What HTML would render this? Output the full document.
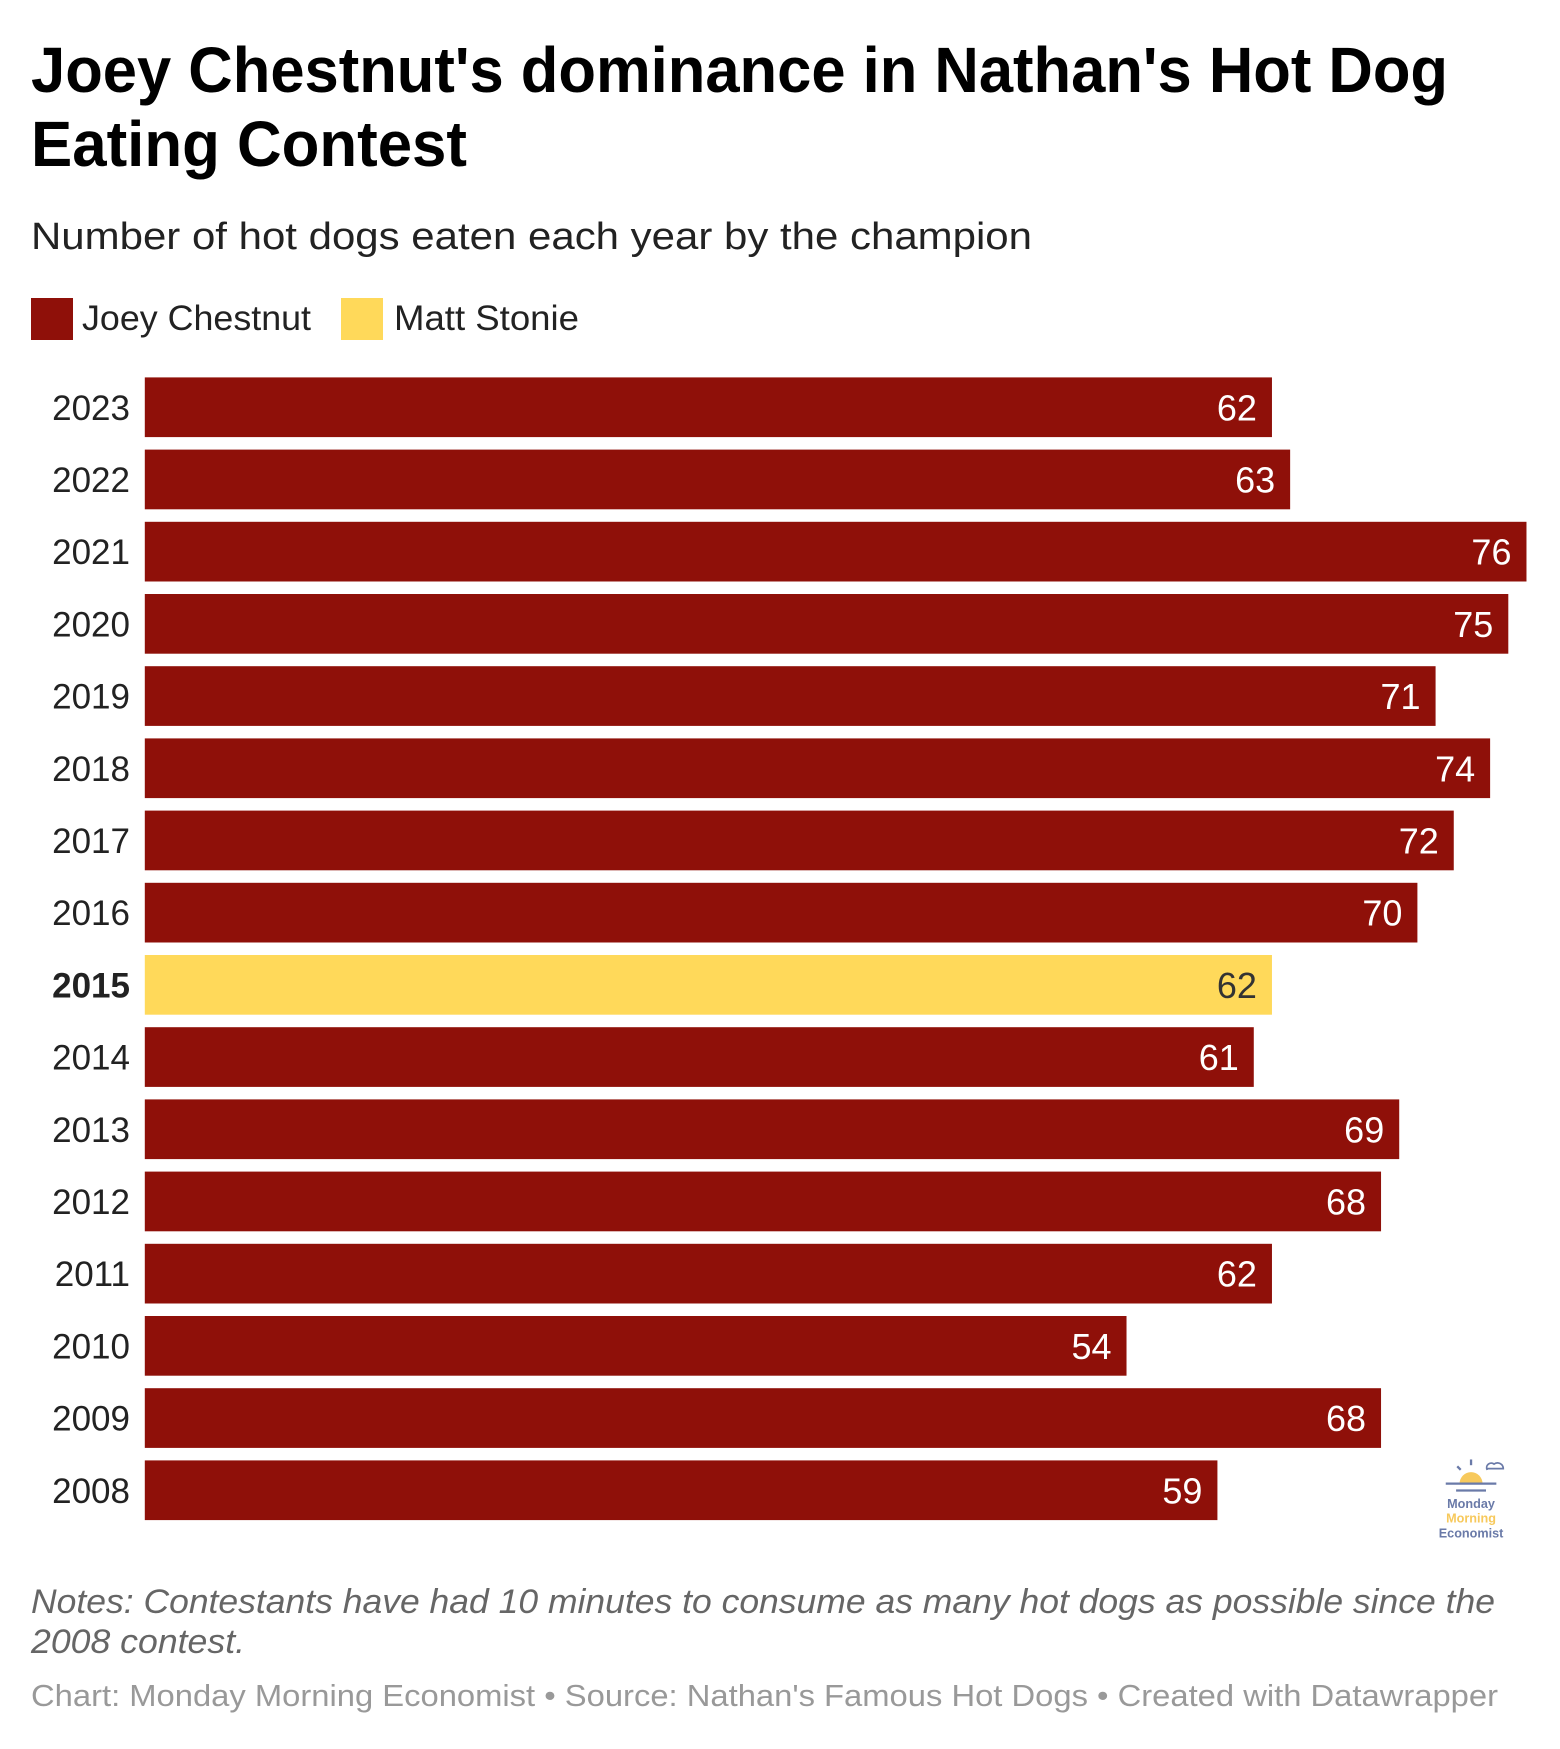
<!DOCTYPE html>
<html><head><meta charset="utf-8"><style>
html,body{margin:0;padding:0;background:#fff;}
svg{display:block;font-family:"Liberation Sans",Arial,sans-serif;}
</style></head><body>
<svg id="chart" width="1560" height="1749" viewBox="0 0 1560 1749" xmlns="http://www.w3.org/2000/svg">
<text x="31" y="92" font-size="64" font-weight="bold" fill="#000" textLength="1417" lengthAdjust="spacingAndGlyphs">Joey Chestnut's dominance in Nathan's Hot Dog</text>
<text x="31" y="166" font-size="64" font-weight="bold" fill="#000" textLength="436" lengthAdjust="spacingAndGlyphs">Eating Contest</text>
<text x="31" y="249" font-size="38" fill="#222" textLength="1001" lengthAdjust="spacingAndGlyphs">Number of hot dogs eaten each year by the champion</text>
<g>
<rect x="31" y="298" width="42" height="42" fill="#8f1009"/>
<text x="82" y="330" font-size="35" fill="#222" textLength="229" lengthAdjust="spacingAndGlyphs">Joey Chestnut</text>
<rect x="341" y="298" width="42" height="42" fill="#ffd95a"/>
<text x="394" y="330" font-size="35" fill="#222" textLength="185" lengthAdjust="spacingAndGlyphs">Matt Stonie</text>
</g>
<g id="bars"></g>
<g transform="translate(1440,1456) scale(1.15)">
<circle cx="27" cy="24" r="10" fill="#f7c95c"/>
<rect x="10" y="24" width="36" height="10" fill="#fff"/>
<line x1="5" y1="24" x2="49" y2="24" stroke="#6a7aa8" stroke-width="2"/>
<line x1="14" y1="30" x2="40" y2="30" stroke="#6a7aa8" stroke-width="2"/>
<line x1="27" y1="3" x2="27" y2="8" stroke="#6a7aa8" stroke-width="2"/>
<line x1="15" y1="9" x2="18" y2="12" stroke="#6a7aa8" stroke-width="2"/>
<path d="M41 12 a4 4 0 0 1 6 -5 a5 5 0 0 1 8 4 h-14z" fill="none" stroke="#6a7aa8" stroke-width="1.5"/>
<text x="27" y="45" font-size="11" font-weight="bold" fill="#6a7aa8" text-anchor="middle">Monday</text>
<text x="27" y="58" font-size="11" font-weight="bold" fill="#f7c95c" text-anchor="middle">Morning</text>
<text x="27" y="71" font-size="11" font-weight="bold" fill="#6a7aa8" text-anchor="middle">Economist</text>
</g>
<text x="31" y="1613" font-size="34" font-style="italic" fill="#666" textLength="1464" lengthAdjust="spacingAndGlyphs">Notes: Contestants have had 10 minutes to consume as many hot dogs as possible since the</text>
<text x="31" y="1653" font-size="34" font-style="italic" fill="#666" textLength="214" lengthAdjust="spacingAndGlyphs">2008 contest.</text>
<text x="31" y="1706" font-size="31" fill="#999" textLength="1467" lengthAdjust="spacingAndGlyphs">Chart: Monday Morning Economist • Source: Nathan's Famous Hot Dogs • Created with Datawrapper</text>
</svg>
<script>
const years = ["2023","2022","2021","2020","2019","2018","2017","2016","2015","2014","2013","2012","2011","2010","2009","2008"];
const values = [62,63,76,75,71,74,72,70,62,61,69,68,62,54,68,59];
const champions = ["Joey","Joey","Joey","Joey","Joey","Joey","Joey","Joey","Matt","Joey","Joey","Joey","Joey","Joey","Joey","Joey"];
const NS = "http://www.w3.org/2000/svg";
const x0 = 144.8, pxPerUnit = 18.18;
function xScale(v){ return x0 + v * pxPerUnit; }
function yScale(i){ return 377.4 + i * 72.2; }
const barH = 59.7;
const g = document.getElementById("bars");
years.forEach((yr, i) => {
  const y = yScale(i);
  const isMatt = champions[i] === "Matt";
  const lab = document.createElementNS(NS, "text");
  
  
  lab.setAttribute("x", 130); lab.setAttribute("y", y + barH/2 + 12.5);
  lab.setAttribute("text-anchor", "end"); lab.setAttribute("font-size", "35");
  lab.setAttribute("fill", "#222");
  if (isMatt) lab.setAttribute("font-weight", "bold");
  lab.textContent = yr; g.appendChild(lab);
  const r = document.createElementNS(NS, "rect");
  
  
  r.setAttribute("x", xScale(0)); r.setAttribute("y", y);
  r.setAttribute("width", xScale(values[i]) - xScale(0)); r.setAttribute("height", barH);
  r.setAttribute("fill", isMatt ? "#ffd95a" : "#8f1009");
  g.appendChild(r);
  const v = document.createElementNS(NS, "text");
  
  
  v.setAttribute("x", xScale(values[i]) - 15); v.setAttribute("y", y + barH/2 + 13);
  v.setAttribute("text-anchor", "end"); v.setAttribute("font-size", "36");
  v.setAttribute("fill", isMatt ? "#333" : "#fff");
  v.textContent = values[i]; g.appendChild(v);
});
</script>
</body></html>
